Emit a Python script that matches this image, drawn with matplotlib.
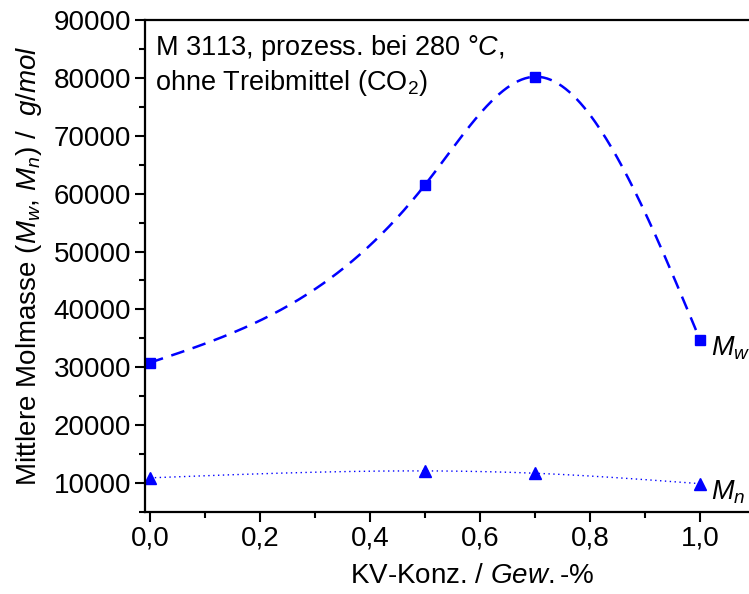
import numpy as np
import matplotlib
matplotlib.use("Agg")
import matplotlib.pyplot as plt
from matplotlib.ticker import MultipleLocator, FuncFormatter

plt.rcParams['font.family'] = ['Liberation Sans', 'DejaVu Sans']
plt.rcParams['mathtext.fontset'] = 'custom'
plt.rcParams['mathtext.rm'] = 'Liberation Sans'
plt.rcParams['mathtext.it'] = 'Liberation Sans:italic'

kv = [0.0, 0.5, 0.7, 1.0]
mw = [30800, 61500, 80200, 34800]
mn = [10900, 12100, 11700, 9900]


def natural_spline(x, y, n=300):
    x = np.asarray(x, float); y = np.asarray(y, float)
    k = len(x); h = np.diff(x)
    A = np.zeros((k, k)); b = np.zeros(k)
    A[0, 0] = 1; A[-1, -1] = 1
    for i in range(1, k - 1):
        A[i, i - 1] = h[i - 1]; A[i, i] = 2 * (h[i - 1] + h[i]); A[i, i + 1] = h[i]
        b[i] = 3 * ((y[i + 1] - y[i]) / h[i] - (y[i] - y[i - 1]) / h[i - 1])
    c = np.linalg.solve(A, b)
    xs = np.linspace(x[0], x[-1], n); ys = np.empty_like(xs)
    for j, xv in enumerate(xs):
        i = min(np.searchsorted(x, xv, side='right') - 1, k - 2)
        bi = (y[i + 1] - y[i]) / h[i] - h[i] * (2 * c[i] + c[i + 1]) / 3
        di = (c[i + 1] - c[i]) / (3 * h[i])
        t = xv - x[i]
        ys[j] = y[i] + bi * t + c[i] * t ** 2 + di * t ** 3
    return xs, ys

fig = plt.figure(figsize=(7.49, 5.94), dpi=100)
ax = fig.add_axes([145 / 749, 82 / 594, 655 / 749, 492 / 594])
blue = '#0000FF'

xs, ys = natural_spline(kv, mw)
ax.plot(xs, ys, color=blue, lw=1.8, ls=(0, (5.5, 3.5)))
ax.plot(kv, mw, 's', color=blue, ms=7.5, clip_on=False)
xs, ys = natural_spline(kv, mn)
ax.plot(xs, ys, color=blue, lw=1.0, ls=(0, (1, 2.5)))
ax.plot(kv, mn, '^', color=blue, ms=9, clip_on=False)

ax.text(kv[-1] + 0.02, mw[-1] - 1500, r'$M_w$', fontsize=19.5, va='center', ha='left')
ax.text(kv[-1] + 0.02, mn[-1] - 1500, r'$M_n$', fontsize=19.5, va='center', ha='left')

ax.set_xlim(-0.009, 1.182)
ax.set_ylim(5000, 90000)
ax.xaxis.set_major_locator(MultipleLocator(0.2))
ax.xaxis.set_minor_locator(MultipleLocator(0.1))
ax.yaxis.set_major_locator(MultipleLocator(10000))
ax.yaxis.set_minor_locator(MultipleLocator(5000))
ax.xaxis.set_major_formatter(FuncFormatter(lambda v, p: f'{v:.1f}'.replace('.', ',')))
ax.yaxis.set_major_formatter(FuncFormatter(lambda v, p: f'{int(v)}'))
ax.tick_params(which='both', direction='out', width=1.5, labelsize=20, pad=3)
ax.tick_params(which='major', length=7)
ax.tick_params(which='minor', length=4)
for s in ax.spines.values():
    s.set_linewidth(1.6)

ax.set_xlabel(r'KV-Konz. / $Gew.$-%', fontsize=20, labelpad=8)
ax.set_ylabel(r'Mittlere Molmasse ($M_w$, $M_n$) /  $g/mol$', fontsize=20, labelpad=7)

ax.text(0.01, 87700, r'M 3113, prozess. bei 280 °$C$,' + '\n' + r'ohne Treibmittel (CO$_2$)',
        fontsize=19.5, va='top', ha='left', linespacing=1.2)

fig.savefig('out.png', dpi=100)
